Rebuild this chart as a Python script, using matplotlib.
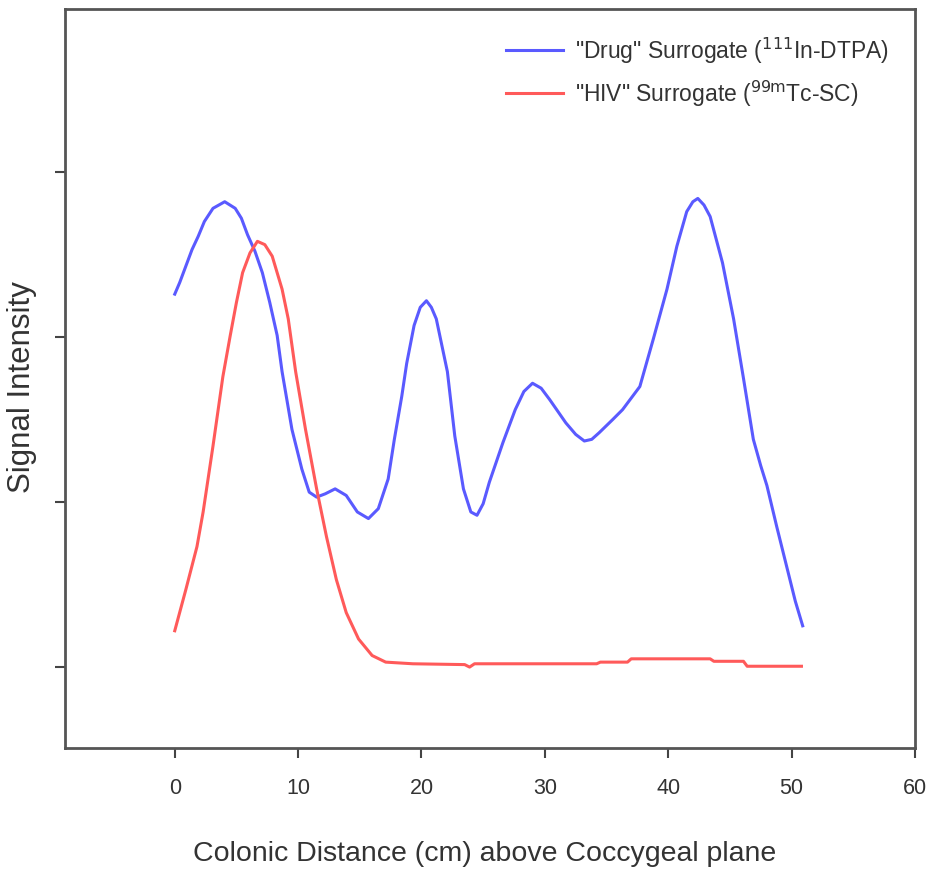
import matplotlib
matplotlib.use("Agg")
import matplotlib.pyplot as plt

plt.rcParams["font.family"] = ["Liberation Sans", "DejaVu Sans"]

# "Drug" surrogate (111In-DTPA) profile
drug_x = [0.0, 0.4, 0.8, 1.4, 1.9, 2.4, 3.1, 4.05, 4.9, 5.4, 5.9, 6.5, 7.1,
          7.7, 8.3, 8.7, 9.5, 10.3, 10.9, 11.5, 12.2, 13.0, 13.9, 14.8, 15.7,
          16.5, 17.3, 17.8, 18.4, 18.8, 19.4, 19.9, 20.4, 20.8, 21.2, 22.1,
          22.7, 23.4, 24.0, 24.5, 25.0, 25.5, 26.6, 27.6, 28.3, 29.0, 29.7,
          30.4, 31.7, 32.5, 33.2, 33.8, 34.4, 35.5, 36.3, 37.7, 38.8, 39.9,
          40.7, 41.5, 42.0, 42.4, 42.9, 43.4, 44.4, 45.3, 46.1, 46.9, 47.5,
          48.0, 48.8, 49.6, 50.3, 50.9]
drug_y = [2.26, 2.33, 2.41, 2.53, 2.61, 2.70, 2.78, 2.82, 2.78, 2.72, 2.62,
          2.52, 2.39, 2.21, 2.01, 1.79, 1.44, 1.20, 1.06, 1.03, 1.05, 1.08,
          1.04, 0.94, 0.90, 0.96, 1.14, 1.38, 1.64, 1.84, 2.07, 2.18, 2.22,
          2.18, 2.11, 1.79, 1.40, 1.08, 0.94, 0.92, 0.99, 1.12, 1.36, 1.56,
          1.67, 1.72, 1.69, 1.62, 1.48, 1.41, 1.37, 1.38, 1.42, 1.50, 1.56,
          1.70, 1.99, 2.29, 2.55, 2.76, 2.82, 2.84, 2.80, 2.73, 2.45, 2.11,
          1.75, 1.38, 1.22, 1.10, 0.85, 0.61, 0.40, 0.25]

# "HIV" surrogate (99mTc-SC) profile
hiv_x = [0.0, 0.9, 1.8, 2.3, 3.1, 3.9, 4.5, 5.0, 5.5, 6.1, 6.7, 7.3, 7.9,
         8.7, 9.2, 9.8, 10.6, 11.5, 12.3, 13.1, 13.9, 14.9, 16.0, 17.1, 19.3,
         23.5, 23.9, 24.3, 34.2, 34.5, 36.7, 37.0, 43.4, 43.7, 46.1, 46.4,
         50.8]
hiv_y = [0.22, 0.47, 0.73, 0.94, 1.34, 1.76, 2.01, 2.21, 2.39, 2.51, 2.58,
         2.56, 2.49, 2.29, 2.11, 1.79, 1.44, 1.08, 0.79, 0.53, 0.33, 0.17,
         0.07, 0.03, 0.02, 0.015, 0.0, 0.02, 0.02, 0.03, 0.03, 0.05, 0.05,
         0.035, 0.035, 0.005, 0.005]

x_ticks = [0, 10, 20, 30, 40, 50, 60]
y_ticks = [0, 1, 2, 3]

fig = plt.figure(figsize=(9.32, 8.78), dpi=100)
ax = fig.add_axes([0.0697, 0.147, 0.912, 0.842])

ax.plot(drug_x, drug_y, color="#5a5aff", lw=2.2,
        label='"Drug" Surrogate ($^{111}$In-DTPA)')
ax.plot(hiv_x, hiv_y, color="#ff5a5a", lw=2.2,
        label='"HIV" Surrogate ($^{\\mathrm{99m}}$Tc-SC)')

ax.set_xlim(-8.9, 60)
ax.set_ylim(-0.49, 3.99)
ax.set_xticks(x_ticks)
ax.set_yticks(y_ticks)
ax.set_yticklabels([])
ax.tick_params(direction="out", length=7, width=1.5, colors="#444444",
               labelsize=15.5, labelcolor="#333333", pad=14)
for s in ax.spines.values():
    s.set_color("#555555")
    s.set_linewidth(2)

ax.set_xlabel("Colonic Distance (cm) above Coccygeal plane", fontsize=20.5,
              color="#333333")
ax.xaxis.set_label_coords(0.494, -0.125)
ax.set_ylabel("Signal Intensity", fontsize=22.5, color="#333333")
ax.yaxis.set_label_coords(-0.033, 0.49)

leg = ax.legend(loc="upper right", frameon=False, fontsize=16.5,
                handlelength=2.5, handletextpad=0.5, borderaxespad=0.75,
                labelspacing=0.55)
for t in leg.get_texts():
    t.set_color("#333333")

fig.savefig("out.png", dpi=100)
